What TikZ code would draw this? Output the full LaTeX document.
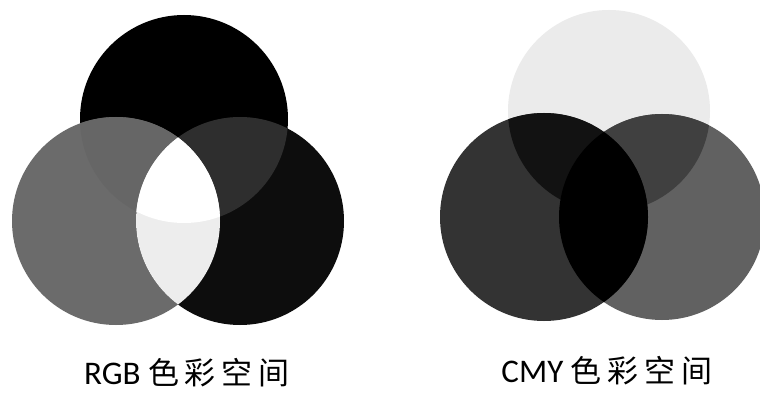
\documentclass[tikz,border=0pt]{standalone}
\usepackage{fontspec}
\setmainfont{Carlito}
\newfontfamily\cjk[LetterSpace=19]{Noto Sans CJK SC}
\begin{document}
\begin{tikzpicture}[x=1pt,y=-1pt,
  lbl/.style={anchor=base,inner sep=0pt,font=\fontsize{33}{40}\selectfont}]
\useasboundingbox (0,0) rectangle (760,393);
\fill[white] (0,0) rectangle (760,393);
% ---------- RGB ----------
\coordinate (rT) at (184,119);
\coordinate (rL) at (116,221);
\coordinate (rR) at (240,221);
\def\rr{104}
\fill[black] (rT) circle (\rr);
\fill[black!58] (rL) circle (\rr);
\fill[black!95] (rR) circle (\rr);
\begin{scope}
  \clip (rT) circle (\rr);
  \fill[black!82] (rR) circle (\rr);
  \fill[black!60] (rL) circle (\rr);
\end{scope}
\begin{scope}
  \clip (rL) circle (\rr);
  \fill[black!7] (rR) circle (\rr);
  \clip (rR) circle (\rr);
  \fill[white] (rT) circle (\rr);
\end{scope}
\node[lbl] (rgb) at (187,384) {RGB {\cjk\fontsize{31}{36}\selectfont 色彩空间}};
% ---------- CMY ----------
\coordinate (cT) at (609,111);
\coordinate (cL) at (544,217);
\coordinate (cR) at (662,217);
\begin{scope}
\clip (0,0) rectangle (760,393);
\fill[black!8] (cT) circle (101);
\fill[black!62] (cR) circle (103);
\fill[black!80] (cL) circle (104);
\begin{scope}
  \clip (cT) circle (101);
  \fill[black!75] (cR) circle (103);
  \fill[black!93] (cL) circle (104);
\end{scope}
\begin{scope}
  \clip (cL) circle (104);
  \fill[black] (cR) circle (103);
\end{scope}
\end{scope}
\node[lbl] (cmy) at (607,382) {CMY {\cjk\fontsize{31}{36}\selectfont 色彩空间}};
\end{tikzpicture}
\end{document}
